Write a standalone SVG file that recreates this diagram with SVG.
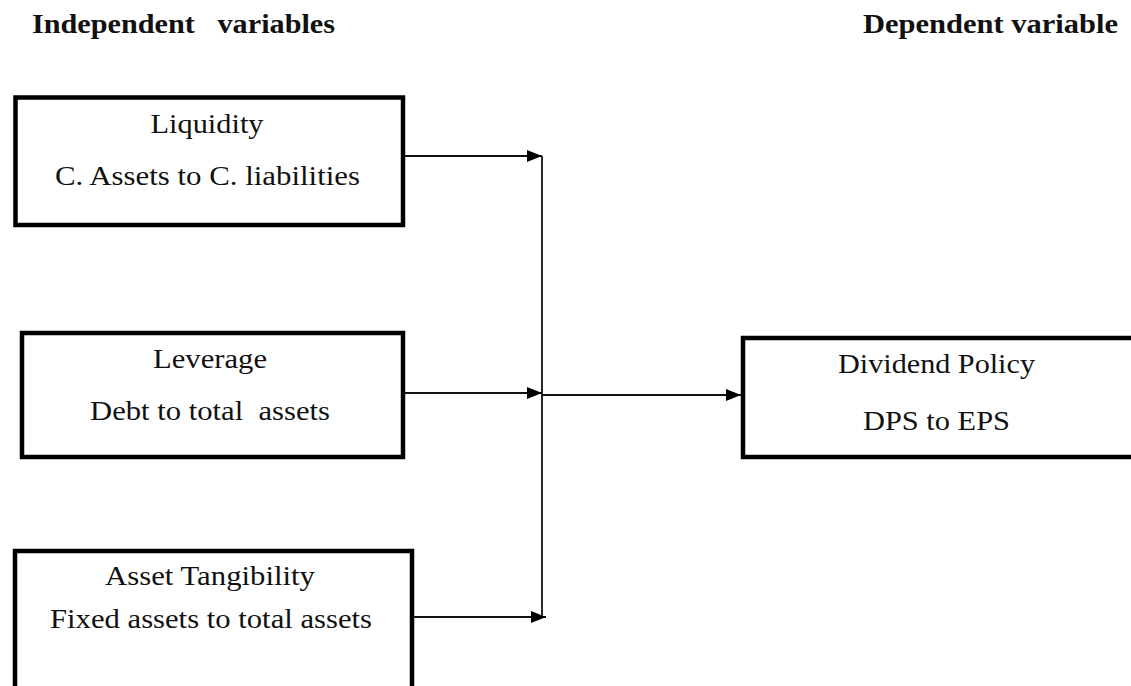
<svg xmlns="http://www.w3.org/2000/svg" width="1131" height="686" viewBox="0 0 1131 686">
<style>
text{white-space:pre}
.box{fill:#fff;stroke:#000;stroke-width:4.5}
.t{font-family:"Liberation Serif","Times New Roman",serif;font-size:27px;fill:#111;text-anchor:middle}
.h{font-family:"Liberation Serif","Times New Roman",serif;font-size:27px;font-weight:bold;fill:#111}
.c{fill:none;stroke:#111;stroke-width:1.8}
</style>
<defs>
<marker id="arr" markerUnits="userSpaceOnUse" markerWidth="16" markerHeight="13" refX="15" refY="6" orient="auto">
<path d="M0,0 L15,6 L0,12 z" fill="#000"/>
</marker>
</defs>
<g id="headers">
<text class="h" x="32" y="33" textLength="303" lengthAdjust="spacingAndGlyphs">Independent   variables</text>
<text class="h" x="863" y="33" textLength="255" lengthAdjust="spacingAndGlyphs">Dependent variable</text>
</g>
<g id="connectors">
<line class="c" x1="404" y1="156" x2="542" y2="156" marker-end="url(#arr)"/>
<line class="c" x1="542" y1="156" x2="542" y2="617"/>
<line class="c" x1="404" y1="393" x2="542" y2="393" marker-end="url(#arr)"/>
<line class="c" x1="542" y1="395" x2="741" y2="395" marker-end="url(#arr)"/>
<line class="c" x1="413" y1="617" x2="546" y2="617" marker-end="url(#arr)"/>
</g>
<g id="liquidity">
<rect class="box" x="15.5" y="97.5" width="387.5" height="127.5"/>
<text class="t" x="207" y="133" textLength="113" lengthAdjust="spacingAndGlyphs">Liquidity</text>
<text class="t" x="207.5" y="185" textLength="305" lengthAdjust="spacingAndGlyphs">C. Assets to C. liabilities</text>
</g>
<g id="leverage">
<rect class="box" x="22" y="333" width="381" height="124"/>
<text class="t" x="210" y="368" textLength="114" lengthAdjust="spacingAndGlyphs">Leverage</text>
<text class="t" x="210" y="420" textLength="240" lengthAdjust="spacingAndGlyphs">Debt to total  assets</text>
</g>
<g id="tangibility">
<rect class="box" x="15" y="551" width="397" height="160"/>
<text class="t" x="210" y="585" textLength="210" lengthAdjust="spacingAndGlyphs">Asset Tangibility</text>
<text class="t" x="211" y="628" textLength="322" lengthAdjust="spacingAndGlyphs">Fixed assets to total assets</text>
</g>
<g id="dividend">
<rect class="box" x="743" y="338" width="420" height="119"/>
<text class="t" x="936.5" y="373" textLength="197" lengthAdjust="spacingAndGlyphs">Dividend Policy</text>
<text class="t" x="936.5" y="430" textLength="147" lengthAdjust="spacingAndGlyphs">DPS to EPS</text>
</g>
</svg>
